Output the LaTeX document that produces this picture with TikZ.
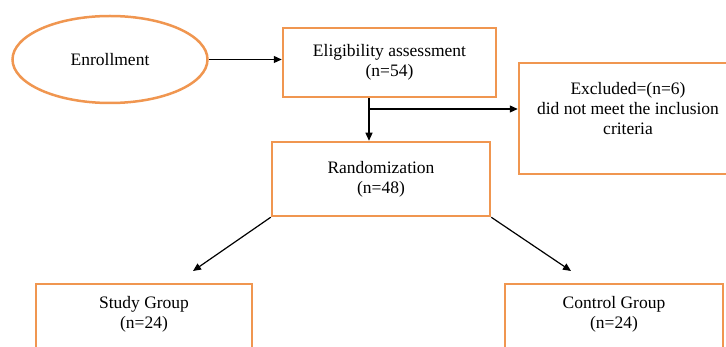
\documentclass[tikz,border=0pt]{standalone}
\usepackage{fontspec}
\setmainfont{Liberation Serif}
\usetikzlibrary{shapes.geometric,arrows.meta}
\definecolor{boxorange}{RGB}{240,150,80}
\begin{document}
\begin{tikzpicture}[x=1pt,y=-1pt,
    obox/.style={draw=boxorange,line width=2.5pt,align=center,font=\fontsize{17.5}{20}\selectfont,inner sep=0pt},
    arr/.style={-{Triangle[length=8pt,width=7pt]},line width=1.2pt}]
    \useasboundingbox (0,0) rectangle (726,347);
    \clip (0,0) rectangle (726,347);
    \node[obox,ellipse,minimum width=195,minimum height=87] (enroll) at (110,59.5) {Enrollment};
    \node[obox,minimum width=213,minimum height=69] (elig) at (389.5,62.5) {Eligibility assessment\\(n=54)};
    \node[obox,minimum width=218,minimum height=74] (rand) at (381,179) {Randomization\\(n=48)};
    \node[obox,minimum width=218,minimum height=111] (excl) at (628,118.5) {Excluded=(n=6)\\did not meet the inclusion\\criteria\\~};
    \node[obox,minimum width=216,minimum height=77,anchor=north] (study) at (144,283) {Study Group\\(n=24)\\~};
    \node[obox,minimum width=218,minimum height=77,anchor=north] (control) at (614,283) {Control Group\\(n=24)\\~};
    \coordinate (split) at (369,109);
    \coordinate (studytip) at (193,271);
    \coordinate (controltip) at (571,271);
    \draw[arr] (enroll.east) -- (enroll.east -| elig.west);
    \draw[arr] (split |- elig.south) -- (split |- rand.north);
    \draw[arr] (split) -- (split -| excl.west);
    \draw[arr] (rand.south west) -- (studytip);
    \draw[arr] (rand.south east) -- (controltip);
  \end{tikzpicture}
\end{document}
